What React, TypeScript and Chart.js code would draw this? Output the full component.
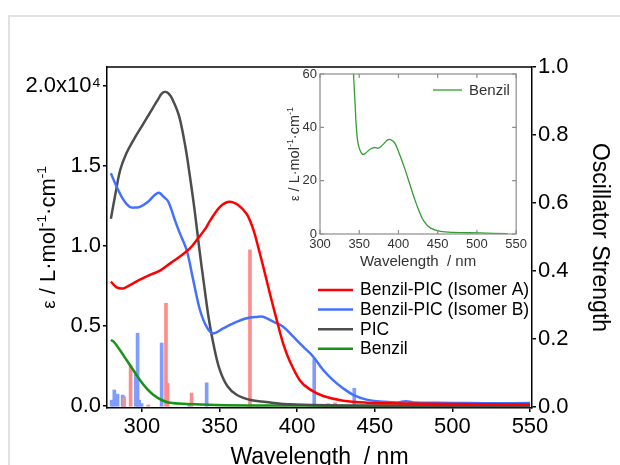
import React, { useEffect, useRef } from 'react';
import { Chart, registerables } from 'chart.js';

Chart.register(...registerables);

const FONT = '"Liberation Sans", Arial, Helvetica, sans-serif';

// ---------- Main chart data (ε in L·mol⁻¹·cm⁻¹, wavelength in nm) ----------
const isomerAWavelength = [280, 283.7, 288, 292.3, 298.7, 305.2, 311.6, 318, 324.5, 330.9, 336.3, 341, 344, 350.3, 356.2, 362, 367.5, 370, 372.5, 375, 378.2, 382.5, 386.8, 391, 395.4, 401.8, 408.2, 416.8, 429.7, 444.8, 466, 500, 550];
const isomerAEpsilon = [7770, 7420, 7350, 7560, 7900, 8200, 8460, 8900, 9350, 9850, 10500, 11100, 11600, 12450, 12770, 12560, 12000, 11500, 10800, 9900, 8700, 7000, 5400, 3900, 2770, 1600, 1040, 625, 330, 210, 160, 130, 100];

const isomerBWavelength = [280, 283.7, 288, 292, 295, 298.7, 304, 308.4, 311, 313.7, 317, 321.3, 324, 328.8, 333, 337.4, 341.7, 345.9, 352.4, 358.8, 367.5, 374, 378, 384.6, 391, 397.5, 404, 410.4, 416.8, 423.3, 429.7, 436.1, 444.8, 455.5, 465, 470, 475, 490, 510, 530, 550];
const isomerBEpsilon = [14550, 13700, 12900, 12450, 12400, 12450, 12770, 13200, 13330, 13100, 12770, 11600, 10900, 9750, 7900, 6000, 4950, 4540, 4850, 5170, 5480, 5570, 5580, 5270, 4960, 4330, 3700, 3080, 2250, 1600, 1100, 700, 400, 270, 220, 300, 220, 200, 180, 170, 180];

const picWavelength = [280, 283, 286, 290, 295, 300, 305, 310, 313.5, 317, 320, 324, 328, 331, 334, 337, 340, 343, 346, 350, 355, 361, 370, 380, 391, 410, 450, 550];
const picEpsilon = [11700, 13300, 14750, 15800, 16700, 17500, 18300, 19100, 19600, 19550, 19100, 18100, 16200, 14300, 12200, 9800, 7600, 5500, 3900, 2300, 1250, 700, 370, 250, 120, 60, 30, 20];

const benzilWavelength = [280, 282, 285.8, 290.1, 294.4, 298.7, 303, 307.3, 312.7, 318, 328.8, 348, 370, 390, 420, 450, 550];
const benzilEpsilon = [4125, 4000, 3500, 2875, 2250, 1625, 1100, 700, 375, 200, 125, 60, 33, 35, 14, 2, 0];

// Oscillator strengths (stick spectra)
const stickAWavelength = [288.6, 292.7, 304.1, 315.5, 316.5, 332, 369.6, 420, 424.4];
const stickAStrength = [0.026, 0.123, 0.006, 0.305, 0.07, 0.041, 0.462, 0.01, 0.012];
const stickBWavelength = [280.5, 282.2, 284.3, 287.6, 288.4, 296.1, 297.2, 298.2, 299.8, 312.7, 330.5, 341.7, 411, 436.8];
const stickBStrength = [0.02, 0.05, 0.038, 0.035, 0.03, 0.105, 0.217, 0.02, 0.01, 0.188, 0.005, 0.071, 0.142, 0.055];

// Tick values
const mainXTicks = [300, 350, 400, 450, 500, 550];
const epsilonTicks = [0, 5000, 10000, 15000, 20000];
const strengthTicks = [0, 0.2, 0.4, 0.6, 0.8, 1.0];

// ---------- Inset data ----------
const insetWavelength = [342.7, 344.8, 346.4, 348.9, 353.9, 358, 364.3, 369.6, 374.6, 380.8, 386.2, 390.4, 395.4, 401.6, 407.8, 414, 420.2, 426.4, 432.6, 440.9, 453.4, 470, 503, 539];
const insetEpsilon = [60, 48.4, 39.7, 33.4, 29.9, 30.3, 31.9, 32.4, 32.2, 33.7, 35.3, 35.3, 34.1, 29.7, 24.7, 19.1, 13.5, 8.5, 4.7, 2.2, 1.0, 0.6, 0.4, 0.1];
const insetXTicks = [300, 350, 400, 450, 500, 550];
const insetYTicks = [0, 20, 40, 60];

const xTitle = 'Wavelength  / nm';
const rightTitle = 'Oscillator Strength';

const toXY = (xs: number[], ys: number[]) => xs.map((x, i) => ({ x, y: ys[i] }));

function drawEpsTitle(ctx: CanvasRenderingContext2D, baseX: number, centerY: number, size: number) {
  const parts = [
    { t: 'ε', s: size * 0.86, dy: 0 },
    { t: ' / L·mol', s: size, dy: 0 },
    { t: '-1', s: size * 0.62, dy: -size * 0.42 },
    { t: '·cm', s: size, dy: 0 },
    { t: '-1', s: size * 0.62, dy: -size * 0.42 },
  ];
  ctx.save();
  ctx.translate(baseX, centerY);
  ctx.rotate(-Math.PI / 2);
  ctx.textAlign = 'left';
  ctx.textBaseline = 'alphabetic';
  const widths = parts.map((p) => {
    ctx.font = `${p.s}px ${FONT}`;
    return ctx.measureText(p.t).width;
  });
  const total = widths.reduce((a, b) => a + b, 0);
  let u = -total / 2;
  parts.forEach((p, i) => {
    ctx.font = `${p.s}px ${FONT}`;
    ctx.fillText(p.t, u, p.dy);
    u += widths[i];
  });
  ctx.restore();
}

const mainDecor = {
  id: 'mainDecor',
  afterDraw(chart: any) {
    const { ctx, chartArea: a } = chart;
    ctx.save();
    ctx.strokeStyle = '#000';
    ctx.lineWidth = 1.5;
    ctx.beginPath();
    ctx.moveTo(a.left, a.top);
    ctx.lineTo(a.right, a.top);
    ctx.stroke();

    ctx.fillStyle = '#000';
    ctx.font = `23px ${FONT}`;
    ctx.textAlign = 'center';
    ctx.textBaseline = 'alphabetic';
    ctx.fillText(xTitle, (a.left + a.right) / 2, 464);

    ctx.save();
    ctx.translate(599, (a.top + a.bottom) / 2);
    ctx.rotate(Math.PI / 2);
    ctx.textAlign = 'center';
    ctx.textBaseline = 'middle';
    ctx.font = `23px ${FONT}`;
    ctx.fillText(rightTitle, 0, 0);
    ctx.restore();

    drawEpsTitle(ctx, 55, (a.top + a.bottom) / 2, 22);

    // legend
    const lines = chart.data.datasets.filter((d: any) => d.type === 'line');
    lines.forEach((d: any, i: number) => {
      const y = 290 + i * 19.6;
      ctx.strokeStyle = d.borderColor;
      ctx.lineWidth = 2.5;
      ctx.beginPath();
      ctx.moveTo(318, y);
      ctx.lineTo(353, y);
      ctx.stroke();
      ctx.fillStyle = '#000';
      ctx.font = `17.5px ${FONT}`;
      ctx.textAlign = 'left';
      ctx.textBaseline = 'middle';
      ctx.fillText(d.label, 360, y + 0.5);
    });
    ctx.restore();
  },
};

const insetDecor = {
  id: 'insetDecor',
  afterDraw(chart: any) {
    const { ctx, chartArea: a, scales } = chart;
    ctx.save();
    ctx.strokeStyle = '#8c8c8c';
    ctx.lineWidth = 1.2;
    ctx.strokeRect(a.left, a.top, a.right - a.left, a.bottom - a.top);
    ctx.beginPath();
    insetXTicks.forEach((v) => {
      const px = scales.x.getPixelForValue(v);
      ctx.moveTo(px, a.bottom);
      ctx.lineTo(px, a.bottom - 4);
      ctx.moveTo(px, a.top);
      ctx.lineTo(px, a.top + 4);
    });
    insetYTicks.forEach((v) => {
      const py = scales.y.getPixelForValue(v);
      ctx.moveTo(a.left, py);
      ctx.lineTo(a.left + 4, py);
      ctx.moveTo(a.right, py);
      ctx.lineTo(a.right - 4, py);
    });
    ctx.stroke();

    ctx.fillStyle = '#333';
    ctx.font = `15px ${FONT}`;
    ctx.textAlign = 'center';
    ctx.textBaseline = 'alphabetic';
    ctx.fillText(xTitle, (a.left + a.right) / 2, 206);

    drawEpsTitle(ctx, 44, (a.top + a.bottom) / 2, 14.5);

    const d = chart.data.datasets[0];
    ctx.strokeStyle = d.borderColor;
    ctx.lineWidth = 1.3;
    ctx.beginPath();
    ctx.moveTo(178, 30);
    ctx.lineTo(207, 30);
    ctx.stroke();
    ctx.fillStyle = '#333';
    ctx.font = `15px ${FONT}`;
    ctx.textAlign = 'left';
    ctx.textBaseline = 'middle';
    ctx.fillText(d.label, 214, 30.5);
    ctx.restore();
  },
};

export default function App() {
  const mainRef = useRef<HTMLCanvasElement>(null);
  const insetRef = useRef<HTMLCanvasElement>(null);

  useEffect(() => {
    const tickFont = { family: FONT, size: 22 };
    const lineCommon = { type: 'line', pointRadius: 0, borderWidth: 2.5, tension: 0.35, yAxisID: 'y', order: 0, fill: false };
    const main = new Chart(mainRef.current as HTMLCanvasElement, {
      type: 'line',
      data: {
        datasets: [
          { ...lineCommon, label: 'Benzil-PIC (Isomer A)', data: toXY(isomerAWavelength, isomerAEpsilon), borderColor: '#ff0000' },
          { ...lineCommon, label: 'Benzil-PIC (Isomer B)', data: toXY(isomerBWavelength, isomerBEpsilon), borderColor: '#4470ff' },
          { ...lineCommon, label: 'PIC', data: toXY(picWavelength, picEpsilon), borderColor: '#4d4d4d' },
          { ...lineCommon, label: 'Benzil', data: toXY(benzilWavelength, benzilEpsilon), borderColor: '#179417' },
          { type: 'bar', label: 'Isomer A f', data: toXY(stickAWavelength, stickAStrength), backgroundColor: '#ff8c8c', yAxisID: 'y2', barThickness: 3, grouped: false, order: 1 },
          { type: 'bar', label: 'Isomer B f', data: toXY(stickBWavelength, stickBStrength), backgroundColor: '#7f9dff', yAxisID: 'y2', barThickness: 3, grouped: false, order: 1 },
        ] as any,
      },
      options: {
        responsive: false,
        animation: false,
        layout: { padding: { top: 67, left: 0, right: 0, bottom: 0 } },
        plugins: { legend: { display: false }, tooltip: { enabled: false } },
        scales: {
          x: {
            type: 'linear', min: 277.5, max: 551.3, offset: false,
            afterBuildTicks: (s: any) => { s.ticks = mainXTicks.map((v) => ({ value: v })); },
            afterFit: (s: any) => { s.height = 57; },
            grid: { drawOnChartArea: false, offset: false, tickLength: 4, color: '#000', lineWidth: 1.5 },
            border: { display: true, color: '#000', width: 1.5 },
            ticks: { font: tickFont, color: '#000', padding: 2, maxRotation: 0, autoSkip: false },
          },
          y: {
            type: 'linear', position: 'left', min: -125, max: 21190,
            afterBuildTicks: (s: any) => { s.ticks = epsilonTicks.map((v) => ({ value: v })); },
            afterFit: (s: any) => { s.width = 107; },
            grid: { drawOnChartArea: false, tickLength: 4, color: '#000', lineWidth: 1.5 },
            border: { display: true, color: '#000', width: 1.5 },
            ticks: {
              font: tickFont, color: '#000', padding: 2,
              callback: (v: any) => (Number(v) === 20000 ? '2.0x10⁴' : (Number(v) / 10000).toFixed(1)),
            },
          },
          y2: {
            type: 'linear', position: 'right', min: -0.003, max: 1.0,
            afterBuildTicks: (s: any) => { s.ticks = strengthTicks.map((v) => ({ value: v })); },
            afterFit: (s: any) => { s.width = 88; },
            grid: { drawOnChartArea: false, tickLength: 4, color: '#000', lineWidth: 1.5 },
            border: { display: true, color: '#000', width: 1.5 },
            ticks: { font: tickFont, color: '#000', padding: 2, callback: (v: any) => Number(v).toFixed(1) },
          },
        },
      } as any,
      plugins: [mainDecor],
    });

    const inset = new Chart(insetRef.current as HTMLCanvasElement, {
      type: 'line',
      data: {
        datasets: [
          { label: 'Benzil', data: toXY(insetWavelength, insetEpsilon), borderColor: '#2f9e2f', borderWidth: 1.3, pointRadius: 0, tension: 0.35, fill: false },
        ] as any,
      },
      options: {
        responsive: false,
        animation: false,
        layout: { padding: { top: 14, right: 9, left: 0, bottom: 0 } },
        plugins: { legend: { display: false }, tooltip: { enabled: false } },
        scales: {
          x: {
            type: 'linear', min: 300, max: 550, offset: false,
            afterBuildTicks: (s: any) => { s.ticks = insetXTicks.map((v) => ({ value: v })); },
            afterFit: (s: any) => { s.height = 41; },
            grid: { display: false, drawTicks: false },
            border: { display: false },
            ticks: { font: { family: FONT, size: 13 }, color: '#333', padding: 3, maxRotation: 0, autoSkip: false },
          },
          y: {
            type: 'linear', min: 0, max: 60,
            afterBuildTicks: (s: any) => { s.ticks = insetYTicks.map((v) => ({ value: v })); },
            afterFit: (s: any) => { s.width = 65; },
            grid: { display: false, drawTicks: false },
            border: { display: false },
            ticks: { font: { family: FONT, size: 13 }, color: '#333', padding: 3 },
          },
        },
      } as any,
      plugins: [insetDecor],
    });

    return () => {
      main.destroy();
      inset.destroy();
    };
  }, []);

  return (
    <div style={{ position: 'absolute', left: 0, top: 0, width: 620, height: 465, overflow: 'hidden', background: '#fff' }}>
      <div style={{ position: 'absolute', left: 8, top: 15, width: 700, height: 600, border: '2px solid #e2e2e2', boxSizing: 'border-box' }} />
      <canvas ref={mainRef} width={620} height={465} style={{ position: 'absolute', left: 0, top: 0, width: 620, height: 465 }} />
      <canvas ref={insetRef} width={275} height={215} style={{ position: 'absolute', left: 255, top: 60, width: 275, height: 215 }} />
    </div>
  );
}
